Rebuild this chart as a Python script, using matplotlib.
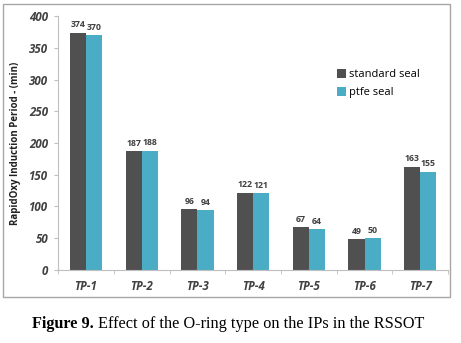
import matplotlib
matplotlib.use("Agg")
import matplotlib.pyplot as plt
import numpy as np
from matplotlib.patches import Rectangle

# data
categories = ['TP-1', 'TP-2', 'TP-3', 'TP-4', 'TP-5', 'TP-6', 'TP-7']
standard_seal = [374, 187, 96, 122, 67, 49, 163]
ptfe_seal = [370, 188, 94, 121, 64, 50, 155]

dark = '#505050'
blue = '#4bacc6'
txt = '#404040'

fig = plt.figure(figsize=(4.61, 3.43), dpi=100)
fig.patch.set_facecolor('white')

# outer chart frame
fig.patches.append(Rectangle((0.0065, 0.134), 0.969, 0.854, transform=fig.transFigure,
                             fill=False, edgecolor='#a6a6a6', linewidth=1.0))

ax = fig.add_axes([0.126, 0.213, 0.846, 0.74])
x = np.arange(len(categories))
w = 0.29
b1 = ax.bar(x - w / 2, standard_seal, w, color=dark, label='standard seal')
b2 = ax.bar(x + w / 2, ptfe_seal, w, color=blue, label='ptfe seal')

for bars, vals in ((b1, standard_seal), (b2, ptfe_seal)):
    for r, v in zip(bars, vals):
        ax.text(r.get_x() + r.get_width() / 2, v + 5, str(v), ha='center', va='bottom',
                fontsize=6.3, fontweight='bold', color=txt, family='Open Sans')

ax.set_xlim(-0.5, len(categories) - 0.5)
ax.set_ylim(0, 400)
ax.set_yticks(range(0, 401, 50))
ax.set_xticks(x)
ax.set_xticklabels(categories)
ax.set_xticks(np.arange(-0.5, len(categories)), minor=True)
ax.tick_params(axis='x', which='major', length=0, pad=7)
ax.tick_params(axis='x', which='minor', length=3, color='#bfbfbf')
ax.tick_params(axis='y', length=3, color='#bfbfbf', pad=4)
for lab in ax.get_xticklabels() + ax.get_yticklabels():
    lab.set_fontsize(8.3)
    lab.set_fontweight('bold')
    lab.set_fontstyle('italic')
    lab.set_color(txt)
    lab.set_family('Open Sans')

for s in ('top', 'right'):
    ax.spines[s].set_visible(False)
ax.spines['left'].set_color('#bfbfbf')
ax.spines['bottom'].set_color('#bfbfbf')

ax.set_ylabel('RapidOxy Induction Period - (min)', fontsize=7, fontweight='bold',
              color='#202020', family='Open Sans', labelpad=6)

ax.legend(loc='upper left', bbox_to_anchor=(0.69, 0.83), frameon=False,
          prop={'family': 'Open Sans', 'size': 8}, handlelength=0.8, handleheight=0.8,
          handletextpad=0.3, labelspacing=0.6)

# caption: bold "Figure 9." followed by regular text
t1 = fig.text(0.07, 0.045, 'Figure 9.', fontsize=11.7, fontweight='bold',
              family='Liberation Serif', ha='left', va='baseline')
fig.canvas.draw()
bb = t1.get_window_extent().transformed(fig.transFigure.inverted())
fig.text(bb.x1 + 0.008, 0.045, 'Effect of the O-ring type on the IPs in the RSSOT',
         fontsize=11.7, family='Liberation Serif', ha='left', va='baseline')

fig.savefig('out.png', dpi=100)
